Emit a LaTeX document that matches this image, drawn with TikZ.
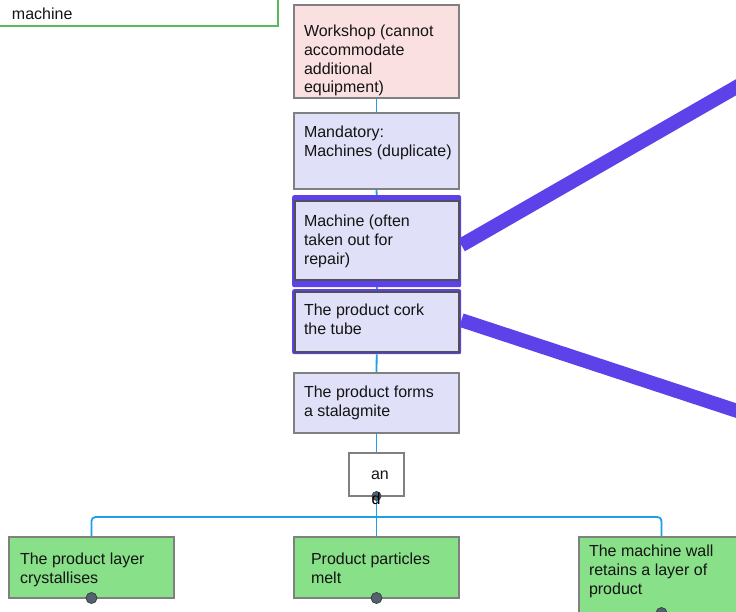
\documentclass[tikz,border=0pt]{standalone}
\usepackage{fontspec}
\setmainfont{Liberation Sans}
\usetikzlibrary{backgrounds}

\definecolor{pinkfill}{RGB}{250,224,224}
\definecolor{lavfill}{RGB}{224,224,248}
\definecolor{greenfill}{RGB}{136,224,136}
\definecolor{boxline}{RGB}{128,128,128}
\definecolor{darkline}{RGB}{80,80,90}
\definecolor{linkblue}{RGB}{30,160,230}
\definecolor{hlpurple}{RGB}{92,66,232}
\definecolor{edgegreen}{RGB}{92,184,92}
\definecolor{dotfill}{RGB}{85,98,110}
\definecolor{dotline}{RGB}{55,65,75}
\definecolor{inkc}{RGB}{20,20,20}

\tikzset{
  box/.style={draw=boxline, line width=1.3, anchor=north west, outer sep=0, inner sep=0},
  txt/.style={anchor=base west, inner sep=0, outer sep=0, text=inkc,
    font=\fontsize{16}{19}\selectfont},
  conn/.style={draw=linkblue, line width=1.8},
  hlband/.style={fill=hlpurple, rounded corners=2},
  bigline/.style={draw=hlpurple, line width=14},
  dot/.style={circle, fill=dotfill, draw=dotline, line width=0.8, minimum size=11, inner sep=0}
}

\begin{document}
\begin{tikzpicture}[x=1pt, y=-1pt]
\useasboundingbox (0,0) rectangle (736,611);
\clip (0,0) rectangle (736,611);

% partly visible note box at the top left
\node[draw=edgegreen, line width=2, fill=white, minimum width=320, minimum height=70,
      anchor=south east, outer sep=0, inner sep=0] (note) at (278,26) {};
\node[txt] (notet) at (12,19) {machine};

% highlight bands behind the two selected boxes
\node[hlband, minimum width=169, minimum height=92, anchor=north west, inner sep=0] (hlA) at (292,195) {};
\node[hlband, minimum width=169, minimum height=65, anchor=north west, inner sep=0] (hlB) at (292,289) {};

% main column of boxes
\node[box, fill=pinkfill, minimum width=165, minimum height=93] (ws) at (294,5) {};
\node[box, fill=lavfill, minimum width=165, minimum height=76] (mand) at (294,113) {};
\node[box, draw=darkline, fill=lavfill, minimum width=164, minimum height=79] (mach) at (295,201) {};
\node[box, draw=darkline, fill=lavfill, minimum width=164, minimum height=60] (cork) at (295,292) {};
\node[box, fill=lavfill, minimum width=165, minimum height=60] (stal) at (294,373) {};
\node[box, fill=white, minimum width=55, minimum height=43] (andb) at (349,453) {};

% bottom row of boxes
\node[box, fill=greenfill, minimum width=165, minimum height=61] (b1) at (9,537) {};
\node[box, fill=greenfill, minimum width=165, minimum height=61] (b2) at (294,537) {};
\node[box, fill=greenfill, minimum width=165, minimum height=76] (b3) at (579,537) {};

% texts
\node[txt] at (304,36) {Workshop (cannot};
\node[txt] at (304,55) {accommodate};
\node[txt] at (304,74) {additional};
\node[txt] at (304,92) {equipment)};

\node[txt] at (304,137) {Mandatory:};
\node[txt] at (304,156) {Machines (duplicate)};

\node[txt] at (304,226) {Machine (often};
\node[txt] at (304,245) {taken out for};
\node[txt] at (304,264) {repair)};

\node[txt] at (304,315) {The product cork};
\node[txt] at (304,334) {the tube};

\node[txt] at (304,397) {The product forms};
\node[txt] at (304,416) {a stalagmite};

\node[txt] at (20,564) {The product layer};
\node[txt] at (20,583) {crystallises};

\node[txt] at (311,564) {Product particles};
\node[txt] at (311,583) {melt};

\node[txt] at (589,556) {The machine wall};
\node[txt] at (589,575) {retains a layer of};
\node[txt] at (589,594) {product};

% connection handles at the bottom of boxes
\node[dot] (d1) at (b1.south) {};
\node[dot] (d2) at (b2.south) {};
\node[dot] (d3) at (b3.south) {};
\node[dot, minimum size=9] (d0) at (andb.south) {};

\node[txt, fill=white, inner sep=1] at (370,479) {an};
\node[txt, text=black] at (371.5,504) {d};

% connectors and highlight lines, behind the boxes
\coordinate (farA) at (780,62);
\coordinate (farB) at (780,425);
\coordinate (bus) at (376.5,517);
\begin{scope}[on background layer]
  \draw[conn] (ws.south) -- (mand.north);
  \draw[conn] (mand.south) -- (hlA.north);
  \draw[conn] (hlA.south) -- (hlB.north);
  \draw[conn] (hlB.south) -- (stal.north);
  \draw[conn] (stal.south) -- (andb.north);
  \draw[conn] (andb.south) -- (bus) -- (b2.north);
  \draw[conn, rounded corners=4] (b1.north) |- (bus) -| (b3.north);
  \draw[bigline] ([yshift=-4]hlA.east) -- (farA);
  \draw[bigline] ([yshift=1.5]hlB.east) -- (farB);
\end{scope}
\end{tikzpicture}
\end{document}
